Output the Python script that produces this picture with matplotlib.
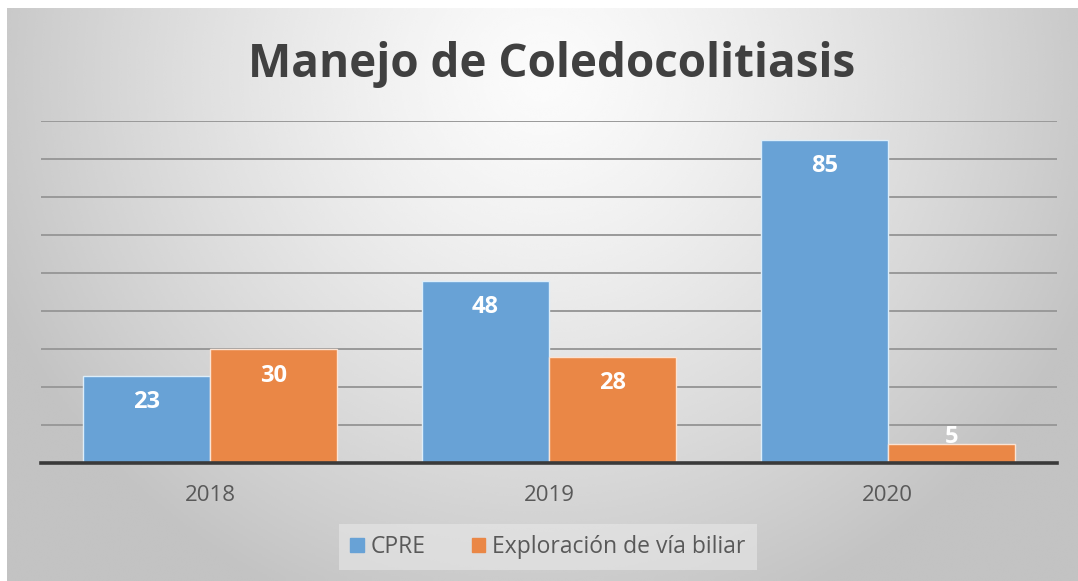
import matplotlib.pyplot as plt
import numpy as np
from matplotlib.patches import Patch

# Data
years = ['2018', '2019', '2020']
cpre = [23, 48, 85]
exploracion = [30, 28, 5]
series_names = ['CPRE', 'Exploración de vía biliar']

blue = '#68a2d6'
orange = '#ea8746'

W, H = 1078, 581
fig = plt.figure(figsize=(W / 100, H / 100), dpi=100)
fig.patch.set_facecolor('white')

# radial gray background
bg = fig.add_axes([7 / W, 0, 1 - 7 / W, 1 - 8 / H])
yy, xx = np.mgrid[0:300, 0:600]
d = np.sqrt(((xx - 300) / 330.0) ** 2 + ((yy - 35) / 300.0) ** 2)
d = np.clip(d, 0, 1)
shade = 0.985 - 0.22 * d ** 1.3
bg.imshow(shade, cmap='gray', vmin=0, vmax=1, aspect='auto',
          extent=[0, 1, 0, 1], interpolation='bicubic')
bg.axis('off')
bg.set_zorder(-10)

ax = fig.add_axes([41 / W, (H - 463.3) / H, (1057 - 41) / W, (463.3 - 120.7) / H])
ax.set_facecolor('none')

x = np.arange(len(years))
w = 0.375
b1 = ax.bar(x - w / 2, cpre, w, color=blue, edgecolor='#ddeefa', linewidth=1, zorder=3)
b2 = ax.bar(x + w / 2, exploracion, w, color=orange, edgecolor='#fbe3d3', linewidth=1, zorder=3)

for bars, vals in [(b1, cpre), (b2, exploracion)]:
    for r, v in zip(bars, vals):
        ty = v - 7 if v > 10 else v + 2
        ax.text(r.get_x() + r.get_width() / 2, ty, str(v), ha='center', va='center',
                color='white', fontsize=17, fontweight='bold', family='Open Sans', zorder=4)

ax.set_xlim(-0.5, 2.5)
ax.set_ylim(0, 90)
ax.set_yticks(np.arange(0, 91, 10))
ax.yaxis.grid(True, color='#999999', linewidth=1.4, zorder=0)
ax.tick_params(axis='y', left=False, labelleft=False)
ax.tick_params(axis='x', bottom=False, pad=12, labelsize=16, labelcolor='#595959')
ax.set_xticks(x)
ax.set_xticklabels(years, family='Open Sans')
for s in ['top', 'right', 'left']:
    ax.spines[s].set_visible(False)
ax.spines['bottom'].set_color('#3a3a3a')
ax.spines['bottom'].set_linewidth(2.6)
ax.spines['bottom'].set_zorder(5)

fig.text(0.512, (H - 64) / H, 'Manejo de Coledocolitiasis', ha='center', va='center',
         fontsize=33, fontweight='bold', color='#404040', family='Open Sans')

handles = [Patch(color=blue), Patch(color=orange)]
leg = fig.legend(handles, series_names, loc='center', bbox_to_anchor=(548 / W, (H - 547) / H),
                 ncol=2, frameon=True, handlelength=0.6, handleheight=0.6,
                 handletextpad=0.3, columnspacing=2.0, borderpad=0.5,
                 prop={'family': 'Open Sans', 'size': 16.5})
leg.get_frame().set_facecolor('#e8e8e8')
leg.get_frame().set_alpha(0.6)
leg.get_frame().set_edgecolor('none')
leg.get_frame().set_boxstyle('square', pad=0)
for t in leg.get_texts():
    t.set_color('#595959')

fig.savefig('out.png', dpi=100)
